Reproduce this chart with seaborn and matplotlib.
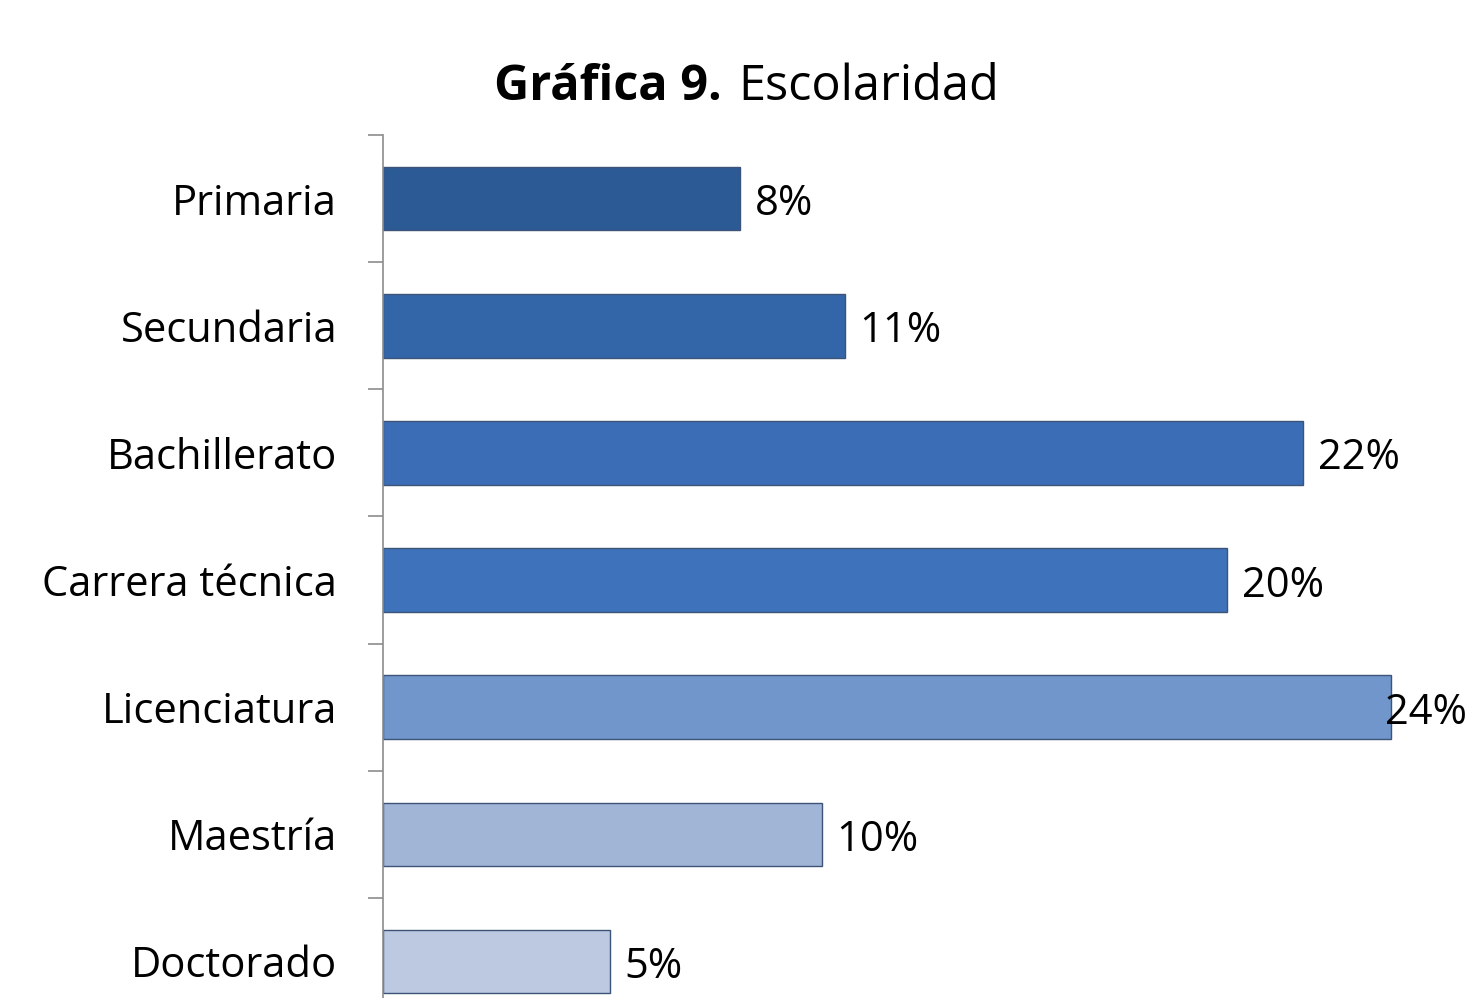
import matplotlib.pyplot as plt
import seaborn as sns
import pandas as pd

# Escolaridad data (bar lengths, labels as printed)
categories = ['Primaria', 'Secundaria', 'Bachillerato', 'Carrera técnica',
              'Licenciatura', 'Maestría', 'Doctorado']
values = [8.5, 11.0, 21.9, 20.1, 24.0, 10.45, 5.4]
labels = ['8%', '11%', '22%', '20%', '24%', '10%', '5%']
colors = ['#2B5A95', '#3366A9', '#3A6DB5', '#3E72BA', '#7096CC', '#A1B5D7', '#BCC9E1']

df = pd.DataFrame({'cat': categories, 'val': values})

sns.set_theme(style="white")
plt.rcParams['font.family'] = ['Open Sans', 'DejaVu Sans']

fig = plt.figure(figsize=(14.75, 9.98), dpi=100)
# axes extends a bit below the bottom edge, like the cropped original
ax = fig.add_axes([383 / 1475, 1 - 1025 / 998, 1092 / 1475, (1025 - 135) / 998])

sns.barplot(data=df, y='cat', x='val', hue='cat', palette=colors, orient='h',
            width=0.5, saturation=1, legend=False, ax=ax,
            edgecolor='#3d5478', linewidth=1.0)

xmax = 26
for i, (v, lab) in enumerate(zip(values, labels)):
    if v + 2.3 > xmax:
        # no room on the right: pull the label back so it stays in the figure
        ax.text(xmax - 0.2, i + 0.13, lab, va='baseline', ha='right', fontsize=30,
                color='black')
    else:
        ax.text(v + 0.35, i + 0.13, lab, va='baseline', ha='left', fontsize=30,
                color='black')

ax.set_xlim(0, xmax)
ax.set_ylim(6.5, -0.5)
ax.set_xlabel('')
ax.set_ylabel('')
ax.set_xticks([])
ax.tick_params(axis='y', which='major', length=0, pad=33, labelsize=30,
               labelcolor='black')
ax.set_yticks([i + 0.5 for i in range(-1, 7)], minor=True)
ax.tick_params(axis='y', which='minor', left=True, length=11, width=1.2,
               color='#8c8c8c', direction='out')
for s in ['top', 'right', 'bottom']:
    ax.spines[s].set_visible(False)
ax.spines['left'].set_color('#8c8c8c')
ax.spines['left'].set_linewidth(1.2)

ty = 1 - 100 / 998
fig.text(722 / 1475, ty, 'Gráfica 9.', ha='right', va='baseline', fontsize=35,
         fontweight='bold', color='black')
fig.text(738 / 1475, ty, 'Escolaridad', ha='left', va='baseline', fontsize=35,
         color='black')

fig.savefig('out.png', dpi=100)
